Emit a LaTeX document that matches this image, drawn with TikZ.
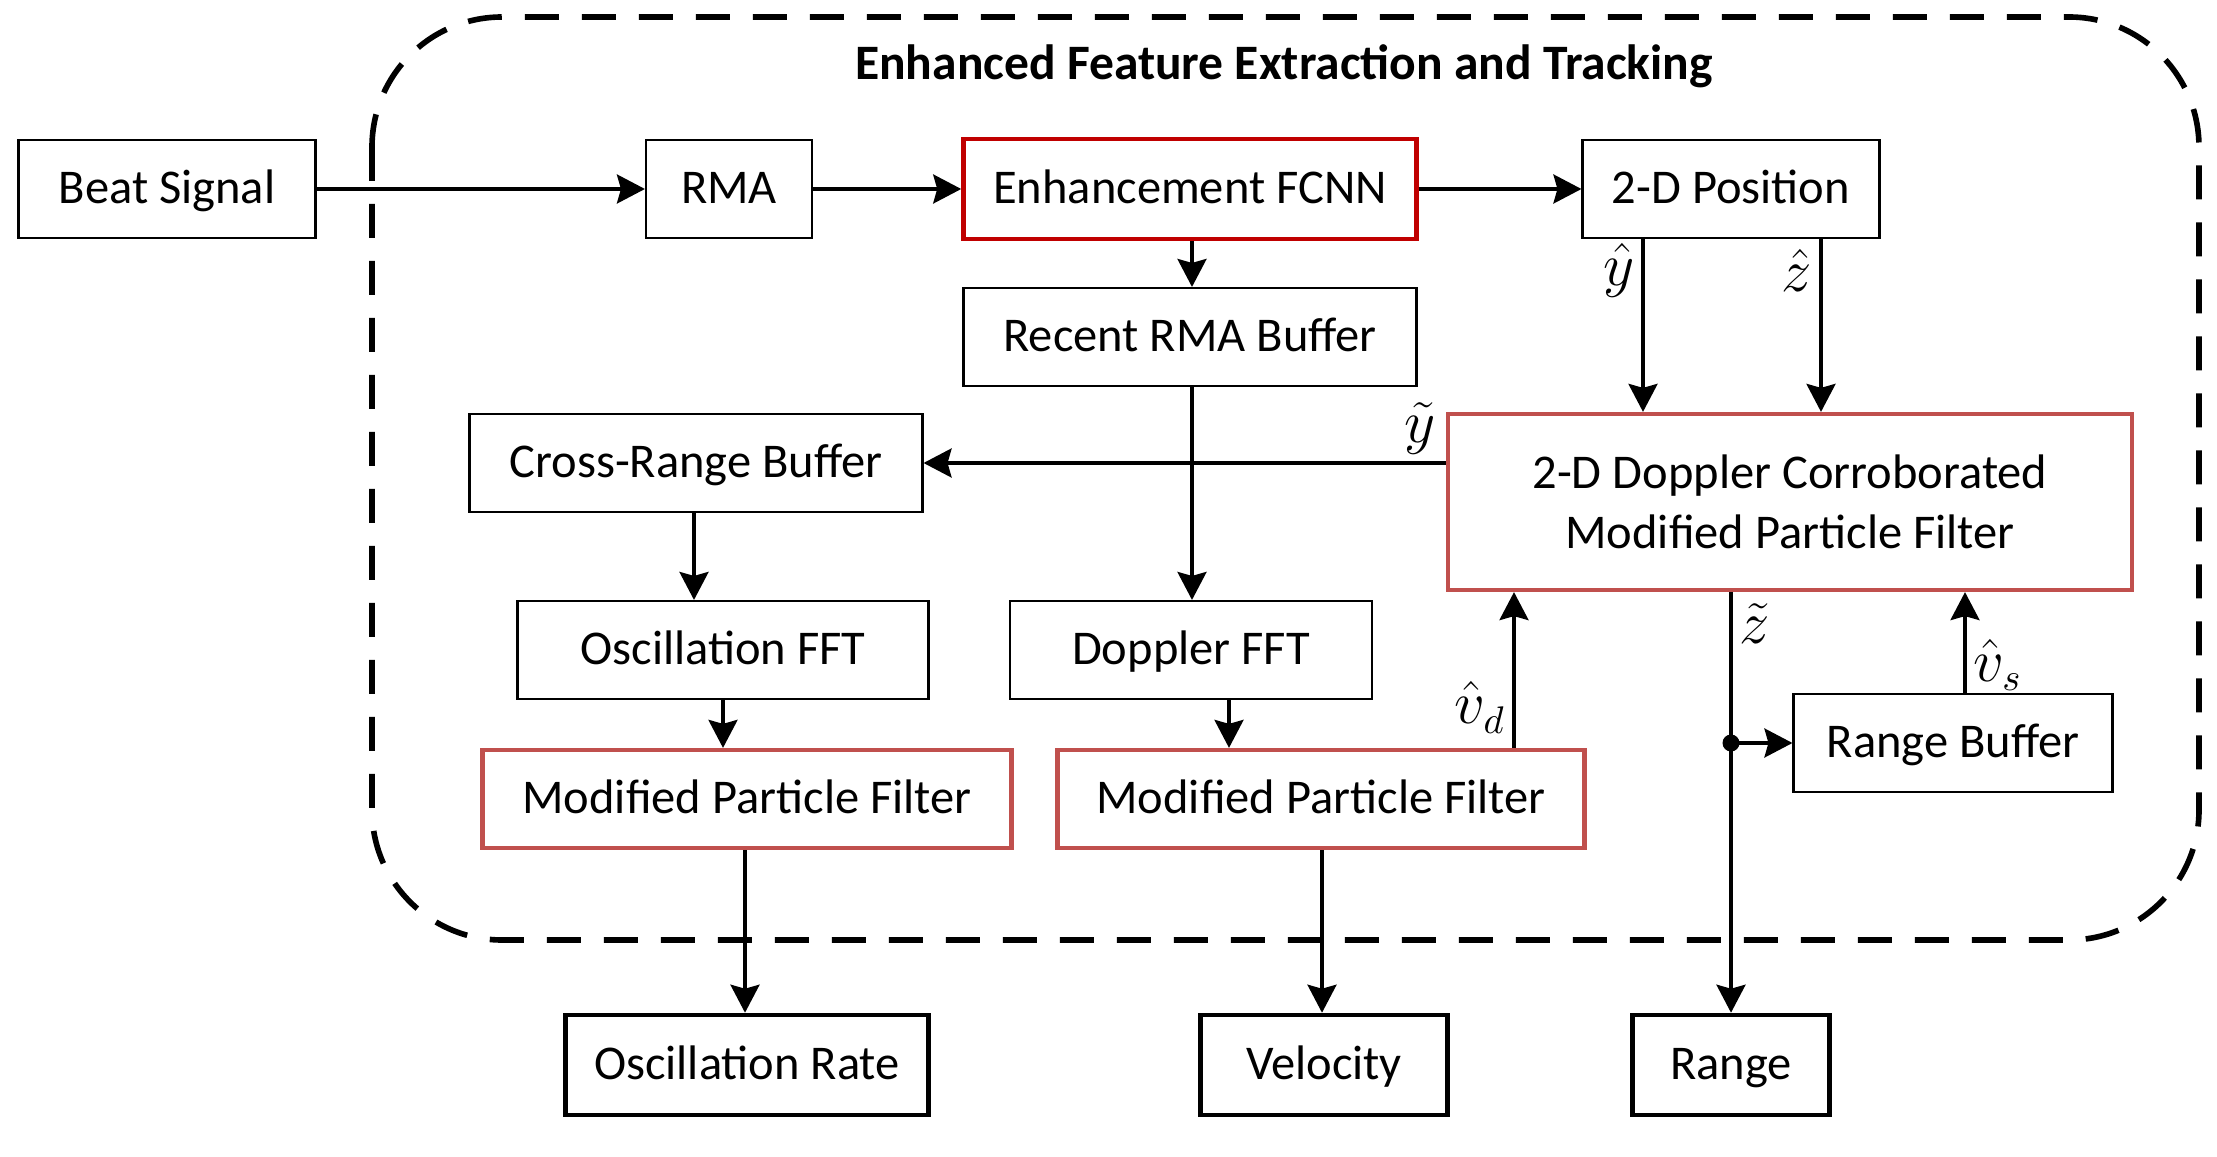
\documentclass[tikz,border=0pt]{standalone}
\usepackage{fontspec}
\setmainfont{Carlito}
\usetikzlibrary{arrows.meta,calc}
\definecolor{dred}{HTML}{C00000}
\definecolor{lred}{HTML}{C0504D}
\begin{document}
\begin{tikzpicture}[x=0.1mm,y=-0.1mm,
  font=\fontsize{13.8}{17}\selectfont,
  base/.style={draw,line width=0.6pt,minimum height=9.8mm,inner sep=0pt,align=center},
  box/.style={base,text height=0.9em,text depth=0.1em},
  rbox/.style={box,draw=lred,line width=1.2pt},
  obox/.style={box,line width=1.3pt,minimum height=10mm},
  arr/.style={line width=0.95pt,-{Stealth[length=2.8mm,width=2.9mm,inset=0.4mm]}},
  lbl/.style={inner sep=2pt,font=\fontsize{16}{18}\selectfont},
  border/.style={line width=1.6pt,dash pattern=on 3.4mm off 2.3mm,rounded corners=13mm}
]
\useasboundingbox (0,0) rectangle (2217,1157);
\draw[border] (372,17) rectangle (2199,940);
\node[font=\fontsize{14.1}{17}\selectfont\bfseries] (title) at (1284,66) {Enhanced Feature Extraction and Tracking};

\node[box,minimum width=29.7mm] (beat) at (167,189) {Beat Signal};
\node[box,minimum width=16.6mm] (rma) at (729,189) {RMA};
\node[box,draw=dred,line width=1.3pt,minimum width=45.3mm,minimum height=10mm] (fcnn) at (1190,189) {Enhancement FCNN};
\node[box,minimum width=29.7mm] (pos) at (1731,189) {2-D Position};
\node[box,minimum width=45.3mm] (rrb) at (1190,337) {Recent RMA Buffer};
\node[box,minimum width=45.3mm] (crb) at (696,463) {Cross-Range Buffer};
\node[base,draw=lred,line width=1.2pt,minimum width=68.4mm,minimum height=17.6mm] (dmpf) at (1790,502) {2-D Doppler Corroborated\\Modified Particle Filter};
\node[box,minimum width=41.1mm] (offt) at (723,650) {Oscillation FFT};
\node[box,minimum width=36.2mm] (dfft) at (1191,650) {Doppler FFT};
\node[box,minimum width=31.9mm] (rb) at (1953,743) {Range Buffer};
\node[rbox,minimum width=52.9mm] (mpf1) at (747,799) {Modified Particle Filter};
\node[rbox,minimum width=52.7mm] (mpf2) at (1321,799) {Modified Particle Filter};
\node[obox,minimum width=36.3mm] (orate) at (747,1065) {Oscillation Rate};
\node[obox,minimum width=24.7mm] (vel) at (1324,1065) {Velocity};
\node[obox,minimum width=19.7mm] (range) at (1731,1065) {Range};

\draw[arr] (beat) -- (rma);
\draw[arr] (rma) -- (fcnn);
\draw[arr] (fcnn) -- (pos);
\draw[arr] (fcnn.south -| 1192,0) -- (rrb.north -| 1192,0);
\draw[arr] (rrb.south -| 1192,0) -- (dfft.north -| 1192,0);
\draw[arr] (pos.south -| 1643,0) -- node[lbl,left,pos=0.18]{$\hat{y}$} (dmpf.north -| 1643,0);
\draw[arr] (pos.south -| 1821,0) -- node[lbl,left,pos=0.18]{$\hat{z}$} (dmpf.north -| 1821,0);
\draw[arr] (dmpf.west |- crb.east) -- node[lbl,above,pos=0.05]{$\tilde{y}$} (crb.east);
\draw[arr] (crb.south -| 694,0) -- (offt.north -| 694,0);
\draw[arr] (offt.south -| 723,0) -- (mpf1.north -| 723,0);
\draw[arr] (dfft.south -| 1229,0) -- (mpf2.north -| 1229,0);
\draw[arr] (mpf2.north -| 1514,0) -- node[lbl,left,pos=0.26]{$\hat{v}_d$} (dmpf.south -| 1514,0);
\draw[arr] (rb.north -| 1965,0) -- node[lbl,right,pos=0.28]{$\hat{v}_s$} (dmpf.south -| 1965,0);
\draw[arr] (dmpf.south -| 1731,0) -- node[lbl,right,pos=0.075]{$\tilde{z}$} (range.north -| 1731,0);
\coordinate (j) at (range.north |- rb.west);
\fill (j) circle (0.85mm);
\draw[arr] (j) -- (rb.west);
\draw[arr] (mpf1.south -| 745,0) -- (orate.north -| 745,0);
\draw[arr] (mpf2.south -| 1322,0) -- (vel.north -| 1322,0);
\end{tikzpicture}
\end{document}
